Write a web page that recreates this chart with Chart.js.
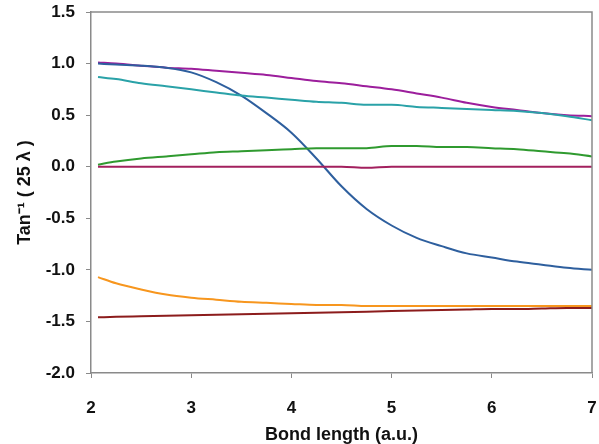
<!DOCTYPE html>
<html>
<head>
<meta charset="utf-8">
<script src="https://cdn.jsdelivr.net/npm/chart.js@4.4.0/dist/chart.umd.min.js"></script>
<style>
  body { margin: 0; background: #fff; }
  #wrap { width: 599px; height: 444px; }
</style>
</head>
<body>
<div id="wrap"><canvas id="chart" width="599" height="444"></canvas></div>
<script>
// bond length (a.u.)
const bondLength = [2.07, 2.25, 2.5, 2.75, 3.0, 3.25, 3.5, 3.75, 4.0, 4.25, 4.5, 4.75, 5.0, 5.25, 5.5, 5.75, 6.0, 6.25, 6.5, 6.75, 7.0];

const purpleVals = [1.01, 1.00, 0.98, 0.96, 0.95, 0.93, 0.91, 0.89, 0.86, 0.83, 0.81, 0.78, 0.75, 0.71, 0.67, 0.62, 0.58, 0.55, 0.52, 0.50, 0.49];
const blueVals = [1.00, 0.99, 0.98, 0.96, 0.915, 0.82, 0.69, 0.52, 0.33, 0.08, -0.19, -0.41, -0.57, -0.69, -0.77, -0.84, -0.88, -0.92, -0.95, -0.98, -1.00];
const tealVals = [0.87, 0.85, 0.81, 0.78, 0.75, 0.72, 0.69, 0.67, 0.65, 0.63, 0.62, 0.60, 0.60, 0.58, 0.57, 0.56, 0.55, 0.54, 0.52, 0.49, 0.45];
const greenVals = [0.02, 0.05, 0.08, 0.10, 0.12, 0.14, 0.15, 0.16, 0.17, 0.18, 0.18, 0.18, 0.20, 0.20, 0.19, 0.19, 0.18, 0.17, 0.15, 0.13, 0.10];
const crimsonVals = [0.00, 0.00, 0.00, 0.00, 0.00, 0.00, 0.00, 0.00, 0.00, 0.00, 0.00, -0.01, 0.00, 0.00, 0.00, 0.00, 0.00, 0.00, 0.00, 0.00, 0.00];
const orangeVals = [-1.07, -1.13, -1.19, -1.24, -1.27, -1.29, -1.31, -1.32, -1.33, -1.34, -1.34, -1.35, -1.35, -1.35, -1.35, -1.35, -1.35, -1.35, -1.35, -1.35, -1.35];
const darkRedVals = [-1.46, -1.455, -1.45, -1.445, -1.44, -1.435, -1.43, -1.425, -1.42, -1.415, -1.41, -1.405, -1.40, -1.395, -1.39, -1.385, -1.38, -1.38, -1.375, -1.37, -1.37];

const xTicks = [2, 3, 4, 5, 6, 7];
const yTicks = [-2.0, -1.5, -1.0, -0.5, 0.0, 0.5, 1.0, 1.5];

function toPoints(vals) {
    return bondLength.map((x, i) => ({ x: x, y: vals[i] }));
}

function series(vals, color) {
    return {
        data: toPoints(vals),
        borderColor: color,
        borderWidth: 2,
        pointRadius: 0,
        fill: false,
        cubicInterpolationMode: 'monotone'
    };
}

// draws the top and right sides of the plot frame
const frame = {
    id: 'frame',
    afterDraw(chart) {
        const a = chart.chartArea;
        const ctx = chart.ctx;
        ctx.save();
        ctx.strokeStyle = '#8a8a8a';
        ctx.lineWidth = 1.5;
        ctx.beginPath();
        ctx.moveTo(a.left, a.top);
        ctx.lineTo(a.right, a.top);
        ctx.lineTo(a.right, a.bottom);
        ctx.stroke();
        ctx.restore();
    }
};

const tickFont = { family: 'Liberation Sans, Arial, sans-serif', size: 17, weight: 'bold' };
const titleFont = { family: 'Liberation Sans, Arial, sans-serif', size: 18, weight: 'bold', lineHeight: 1.0 };

new Chart(document.getElementById('chart').getContext('2d'), {
    type: 'line',
    data: {
        datasets: [
            series(crimsonVals, '#a3205e'),
            series(greenVals, '#2f9a2f'),
            series(tealVals, '#2aa2a8'),
            series(blueVals, '#2e5f9e'),
            series(purpleVals, '#9c1e9c'),
            series(orangeVals, '#f7961e'),
            series(darkRedVals, '#8c1c1c')
        ]
    },
    options: {
        responsive: false,
        animation: false,
        layout: { padding: { top: 12, right: 7, left: 0, bottom: 0 } },
        plugins: { legend: { display: false }, tooltip: { enabled: false } },
        scales: {
            x: {
                type: 'linear',
                min: 2,
                max: 7,
                afterBuildTicks: (s) => { s.ticks = xTicks.map(v => ({ value: v })); },
                afterFit: (s) => { s.height = 71; s.paddingLeft = 0; s.paddingRight = 0; },
                grid: { drawOnChartArea: false, drawTicks: true, tickLength: 5, color: '#8a8a8a' },
                border: { display: true, color: '#8a8a8a', width: 1.5 },
                ticks: { color: '#111', font: tickFont, padding: 20, maxRotation: 0 },
                title: { display: true, text: 'Bond length (a.u.)', color: '#111', font: titleFont, padding: { top: 0, bottom: 0 } }
            },
            y: {
                min: -2,
                max: 1.5,
                afterBuildTicks: (s) => { s.ticks = yTicks.map(v => ({ value: v })); },
                afterFit: (s) => { s.width = 91; s.paddingTop = 0; s.paddingBottom = 0; },
                grid: { drawOnChartArea: false, drawTicks: true, tickLength: 5, color: '#8a8a8a' },
                border: { display: true, color: '#8a8a8a', width: 1.5 },
                ticks: { color: '#111', font: tickFont, padding: 11, callback: (v) => Number(v).toFixed(1) },
                title: { display: true, text: 'Tan\u207B\u00B9 ( 25 \u03BB )', color: '#111', font: titleFont, padding: { top: 16, bottom: 0 } }
            }
        }
    },
    plugins: [frame]
});
</script>
</body>
</html>
